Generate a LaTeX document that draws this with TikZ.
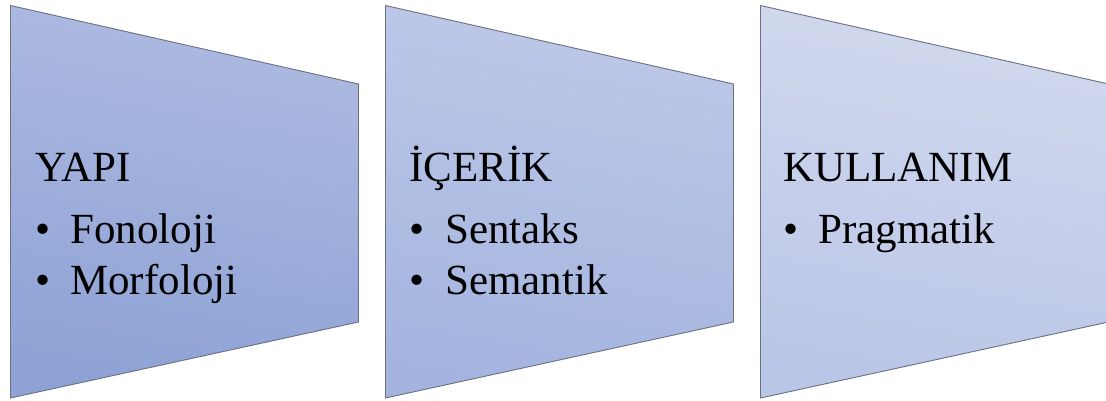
\documentclass[tikz,border=0pt]{standalone}
\usepackage{fontspec}
\setmainfont{Liberation Serif}
\definecolor{aTop}{RGB}{174,187,226}
\definecolor{aBot}{RGB}{142,162,213}
\definecolor{bTop}{RGB}{190,201,232}
\definecolor{bBot}{RGB}{164,180,223}
\definecolor{cTop}{RGB}{210,217,238}
\definecolor{cBot}{RGB}{186,198,231}
\definecolor{edge}{RGB}{105,112,130}
\tikzset{
  panel/.style={draw=edge, line width=0.9pt, line join=miter},
  txt/.style={anchor=base west, inner sep=0pt, font=\fontsize{43}{50}\selectfont, text=black},
}
\begin{document}
\begin{tikzpicture}[x=1pt,y=-1pt]
\useasboundingbox (0,0) rectangle (1106,401);
\begin{scope}
\clip (0,0) rectangle (1106,401);
\shade[panel, top color=aTop, bottom color=aBot, shading angle=-10]
  (10.5,5.5) -- (358.5,84) -- (358.5,322) -- (10.5,398) -- cycle;
\shade[panel, top color=bTop, bottom color=bBot, shading angle=-10]
  (385.5,5.5) -- (733.5,84) -- (733.5,322) -- (385.5,398) -- cycle;
\shade[panel, top color=cTop, bottom color=cBot, shading angle=-10]
  (760.5,5.5) -- (1108.5,84) -- (1108.5,322) -- (760.5,398) -- cycle;
\end{scope}
% panel 1
\node[txt] (t1) at (35,182) {YAPI};
\node[txt] (b11) at (35,243) {•};
\node[txt] (i11) at (70,243) {Fonoloji};
\node[txt] (b12) at (35,294) {•};
\node[txt] (i12) at (70,294) {Morfoloji};
% panel 2
\node[txt] (t2) at (409,182) {İÇERİK};
\node[txt] (b21) at (409,243) {•};
\node[txt] (i21) at (445,243) {Sentaks};
\node[txt] (b22) at (409,294) {•};
\node[txt] (i22) at (445,294) {Semantik};
% panel 3
\node[txt] (t3) at (783,182) {KULLANIM};
\node[txt] (b31) at (783,243) {•};
\node[txt] (i31) at (818,243) {Pragmatik};
\end{tikzpicture}
\end{document}
